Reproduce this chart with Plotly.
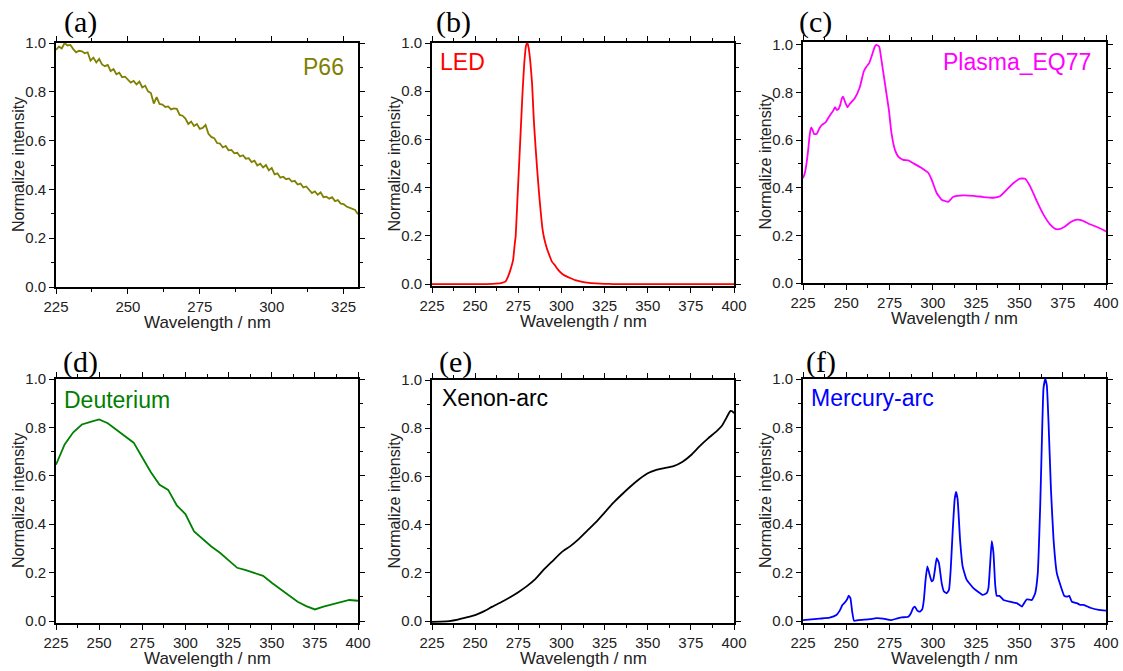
import plotly.graph_objects as go

W, H = 1123, 671

# ---------------- data ----------------
p66_x = list(range(225, 331))
p66_y = [0.972, 0.985, 0.978, 1.0, 0.99, 0.992, 0.975, 0.962, 0.968, 0.966,
         0.958, 0.962, 0.928, 0.94, 0.92, 0.935, 0.912, 0.905, 0.91, 0.885,
         0.893, 0.872, 0.878, 0.86, 0.862, 0.848, 0.838, 0.845, 0.83, 0.842,
         0.818, 0.825, 0.802, 0.795, 0.752, 0.778, 0.75, 0.748, 0.738, 0.74,
         0.728, 0.732, 0.73, 0.705, 0.702, 0.69, 0.668, 0.678, 0.66, 0.668,
         0.648, 0.652, 0.664, 0.628, 0.615, 0.61, 0.59, 0.588, 0.572, 0.578,
         0.56, 0.562, 0.548, 0.55, 0.535, 0.54, 0.526, 0.528, 0.512, 0.518,
         0.498, 0.505, 0.49, 0.5, 0.478, 0.488, 0.462, 0.466, 0.448, 0.452,
         0.442, 0.445, 0.432, 0.435, 0.42, 0.424, 0.408, 0.412, 0.398, 0.385,
         0.392, 0.378, 0.388, 0.368, 0.37, 0.362, 0.368, 0.352, 0.356, 0.342,
         0.34, 0.33, 0.325, 0.32, 0.316, 0.298]

led_x = [225, 250, 260, 265, 267.5, 269, 270.5, 272, 273, 273.5, 274.5, 275.5,
         276.5, 277.5, 278.5, 279.5, 280.3, 281, 282, 283, 284, 285, 286, 287,
         288, 289, 290, 291.5, 293, 294.5, 296, 298, 300, 302, 305, 308, 312,
         316, 320, 325, 330, 400]
led_y = [0, 0, 0.001, 0.004, 0.01, 0.03, 0.06, 0.1, 0.17, 0.2, 0.35, 0.5,
         0.65, 0.8, 0.92, 0.99, 1.0, 0.98, 0.92, 0.83, 0.68, 0.57, 0.47, 0.38,
         0.3, 0.23, 0.19, 0.15, 0.12, 0.093, 0.08, 0.06, 0.045, 0.035, 0.025,
         0.016, 0.009, 0.005, 0.003, 0.001, 0, 0]

plasma_x = [225, 226, 227, 228, 229, 229.8, 230.5, 231.5, 233, 234.5, 236, 238,
            239.5, 241, 242.5, 243.5, 244.5, 245.5, 246.5, 247.5, 248.2, 249,
            250, 250.7, 252, 254.9, 257.8, 260.1, 261.7, 263.2, 264.6, 266.5,
            267.4, 269.0, 270.3, 272.3, 274.6, 276.1, 278.1, 280.0, 282.9,
            285.8, 288.7, 293.5, 297.4, 299.3, 302.2, 305.1, 308.9, 311.8,
            317.6, 323.4, 329.2, 335.0, 338.8, 342.7, 346.6, 350.4, 353.3,
            356.2, 360.1, 363.9, 367.8, 370.7, 373.6, 376.5, 379.4, 383.2,
            386.1, 390.0, 394.8, 400.0]
plasma_y = [0.44, 0.46, 0.50, 0.56, 0.63, 0.653, 0.643, 0.625, 0.627, 0.65,
            0.664, 0.674, 0.692, 0.709, 0.724, 0.738, 0.727, 0.73, 0.748, 0.776,
            0.783, 0.766, 0.748, 0.738, 0.752, 0.776, 0.822, 0.888, 0.909,
            0.923, 0.951, 0.993, 1.0, 0.993, 0.937, 0.839, 0.727, 0.629, 0.559,
            0.531, 0.517, 0.515, 0.503, 0.483, 0.462, 0.434, 0.378, 0.35,
            0.341, 0.362, 0.368, 0.366, 0.361, 0.358, 0.364, 0.392, 0.42,
            0.438, 0.438, 0.406, 0.343, 0.287, 0.245, 0.227, 0.227, 0.238,
            0.255, 0.266, 0.263, 0.249, 0.235, 0.217]

deut_x = list(range(225, 401, 5))
deut_y = [0.646, 0.73, 0.78, 0.812, 0.823, 0.833, 0.817, 0.79, 0.764, 0.737,
          0.676, 0.615, 0.563, 0.542, 0.478, 0.442, 0.37, 0.337, 0.308, 0.282,
          0.25, 0.22, 0.21, 0.2, 0.187, 0.158, 0.131, 0.105, 0.08, 0.062,
          0.048, 0.06, 0.07, 0.079, 0.087, 0.084]

xenon_x = [225, 230, 235, 240, 245, 250, 255, 260, 265, 270, 275, 280, 285,
           290, 295, 300, 305, 310, 315, 320, 325, 330, 335, 340, 345, 350,
           355, 360, 365, 370, 375, 380, 385, 390, 393, 395, 397, 398, 399, 400]
xenon_y = [-0.003, -0.002, 0.0, 0.006, 0.015, 0.025, 0.04, 0.06, 0.078, 0.098,
           0.12, 0.145, 0.175, 0.215, 0.25, 0.285, 0.31, 0.34, 0.375, 0.41,
           0.45, 0.49, 0.525, 0.558, 0.588, 0.613, 0.627, 0.635, 0.643, 0.66,
           0.688, 0.725, 0.758, 0.788, 0.81, 0.835, 0.862, 0.872, 0.87, 0.862]

merc_x = [225, 234.6, 240.4, 244.3, 246.2, 247.8, 249.1, 250.5, 251.4, 252.4,
          253.4, 254.5, 256.8, 263.6, 267.4, 271.3, 276.1, 279, 281.9, 285.8,
          287.1, 288.7, 289.6, 291, 292.5, 293.9, 294.8, 295.8, 296.8, 297.9,
          299.3, 300.2, 301.2, 302.2, 303.5, 305.1, 306.4, 308, 309.3, 310.3,
          311.4, 312.6, 313.4, 314.3, 315.7, 317.2, 319.5, 323.4, 327.3, 328.8,
          331.1, 332.1, 333, 334, 335, 336, 336.9, 338.5, 340.8, 344.6, 348.5,
          351.4, 352.7, 354.3, 357.2, 359.1, 360.6, 362, 363, 363.9, 364.9,
          365.8, 366.8, 368.2, 369.7, 371.6, 373.6, 375.9, 377.4, 378.8, 380.3,
          383.2, 385.1, 387.1, 390.9, 395.8, 400]
merc_y = [0.004, 0.01, 0.014, 0.025, 0.043, 0.067, 0.076, 0.09, 0.105, 0.094,
          0.039, 0.001, 0.004, 0.008, 0.012, 0.01, 0.004, 0.01, 0.015, 0.018,
          0.029, 0.055, 0.06, 0.043, 0.039, 0.049, 0.087, 0.171, 0.226, 0.198,
          0.164, 0.17, 0.212, 0.26, 0.24, 0.157, 0.122, 0.115, 0.129, 0.212,
          0.365, 0.503, 0.534, 0.503, 0.337, 0.226, 0.171, 0.136, 0.115, 0.108,
          0.115, 0.136, 0.226, 0.33, 0.282, 0.15, 0.104, 0.104, 0.087, 0.08,
          0.074, 0.06, 0.074, 0.09, 0.087, 0.115, 0.198, 0.476, 0.753, 0.961,
          1.0, 0.975, 0.822, 0.545, 0.337, 0.198, 0.15, 0.104, 0.101, 0.104,
          0.08, 0.074, 0.067, 0.067, 0.055, 0.046, 0.043]

x_ticks_short = [225, 250, 275, 300, 325]
x_ticks_long = [225, 250, 275, 300, 325, 350, 375, 400]
y_ticks = [0.0, 0.2, 0.4, 0.6, 0.8, 1.0]
y_ticklabels = ["0.0", "0.2", "0.4", "0.6", "0.8", "1.0"]

panel_letters = ["(a)", "(b)", "(c)", "(d)", "(e)", "(f)"]
series_names = ["P66", "LED", "Plasma_EQ77", "Deuterium", "Xenon-arc", "Mercury-arc"]
colors = ["#808000", "#FF0000", "#FF00FF", "#008000", "#000000", "#0000FF"]
line_shapes = ["linear", "spline", "spline", "linear", "spline", "spline"]

# ---------------- layout geometry (pixels) ----------------
boxes = [  # x0, x1, y0(top), y1(bottom)
    (56, 358, 43, 287),
    (432, 734, 43, 286),
    (803, 1106, 42, 283),
    (56, 358, 379, 623),
    (432, 734, 380, 623),
    (803, 1106, 379, 623),
]
xranges = [[225, 330], [225, 400], [225, 400], [225, 400], [225, 400], [225, 400]]
yranges = [[0, 1.0], [-0.008, 1.0], [0, 1.012], [-0.008, 1.0], [-0.008, 1.0], [-0.008, 1.0]]
xtickss = [x_ticks_short] + [x_ticks_long] * 5

datasets = [(p66_x, p66_y), (led_x, led_y), (plasma_x, plasma_y),
            (deut_x, deut_y), (xenon_x, xenon_y), (merc_x, merc_y)]

fig = go.Figure()
layout = dict(width=W, height=H, margin=dict(l=0, r=0, t=0, b=0, autoexpand=False),
              paper_bgcolor="white", plot_bgcolor="white", showlegend=False)

FONT = "Arial, Liberation Sans, sans-serif"
TXT = "#222222"
annotations = []


def px(x):
    return x / W


def py(y):
    return 1 - y / H


for i, ((xs, ys), (x0, x1, y0, y1)) in enumerate(zip(datasets, boxes)):
    n = "" if i == 0 else str(i + 1)
    xa, ya = "x" + n, "y" + n
    line = dict(color=colors[i], width=1.8, shape=line_shapes[i])
    if line_shapes[i] == "spline":
        line["smoothing"] = 0.4
    fig.add_trace(go.Scatter(x=xs, y=ys, mode="lines", xaxis=xa, yaxis=ya,
                             line=line, hoverinfo="skip"))
    common = dict(showline=True, linecolor="black", linewidth=1.6,
                  mirror="ticks", ticks="outside", ticklen=5, tickwidth=1.4,
                  tickcolor="black", showgrid=False, zeroline=False,
                  automargin=False,
                  tickfont=dict(family=FONT, size=15, color=TXT))
    layout["xaxis" + n] = dict(
        domain=[px(x0), px(x1)], range=xranges[i], anchor=ya,
        tickvals=xtickss[i], ticktext=[str(v) for v in xtickss[i]],
        minor=dict(ticks="outside", ticklen=3, tickwidth=1.2, tickcolor="black",
                   dtick=12.5, tick0=225, showgrid=False),
        **common)
    layout["yaxis" + n] = dict(
        domain=[py(y1), py(y0)], range=yranges[i], anchor=xa,
        tickvals=y_ticks, ticktext=y_ticklabels,
        minor=dict(ticks="outside", ticklen=3, tickwidth=1.2, tickcolor="black",
                   dtick=0.1, tick0=0, showgrid=False),
        **common)

    # axis titles
    annotations.append(dict(text="Wavelength / nm", x=px((x0 + x1) / 2), y=py(y1 + 35),
                            xref="paper", yref="paper", showarrow=False,
                            xanchor="center", yanchor="middle",
                            font=dict(family=FONT, size=17, color=TXT)))
    annotations.append(dict(text="Normalize intensity", x=px(x0 - 38), y=py((y0 + y1) / 2),
                            xref="paper", yref="paper", showarrow=False, textangle=-90,
                            xanchor="center", yanchor="middle",
                            font=dict(family=FONT, size=16, color=TXT)))

# panel letters
letter_pos = [(80, 22), (453, 22), (815, 22), (80, 362), (455, 362), (821, 362)]
for t, (lx, ly) in zip(panel_letters, letter_pos):
    annotations.append(dict(text=t, x=px(lx), y=py(ly), xref="paper", yref="paper",
                            showarrow=False, xanchor="center", yanchor="middle",
                            font=dict(family="Times New Roman, Liberation Serif, serif",
                                      size=30, color="black")))

# series labels
series_pos = [(346, 67, "right"), (438, 62, "left"), (1093, 62, "right"),
              (62, 400, "left"), (440, 398, "left"), (809, 398, "left")]
for name, c, (sx, sy, anc) in zip(series_names, colors, series_pos):
    annotations.append(dict(text=name, x=px(sx), y=py(sy), xref="paper", yref="paper",
                            showarrow=False, xanchor=anc, yanchor="middle",
                            font=dict(family=FONT, size=23, color=c)))

layout["annotations"] = annotations
fig.update_layout(**layout)
fig.write_html("out.html",
               config={"displayModeBar": False},
               post_script="document.body.style.margin='0';document.body.style.padding='0';"
                           "document.body.style.overflow='hidden';")
